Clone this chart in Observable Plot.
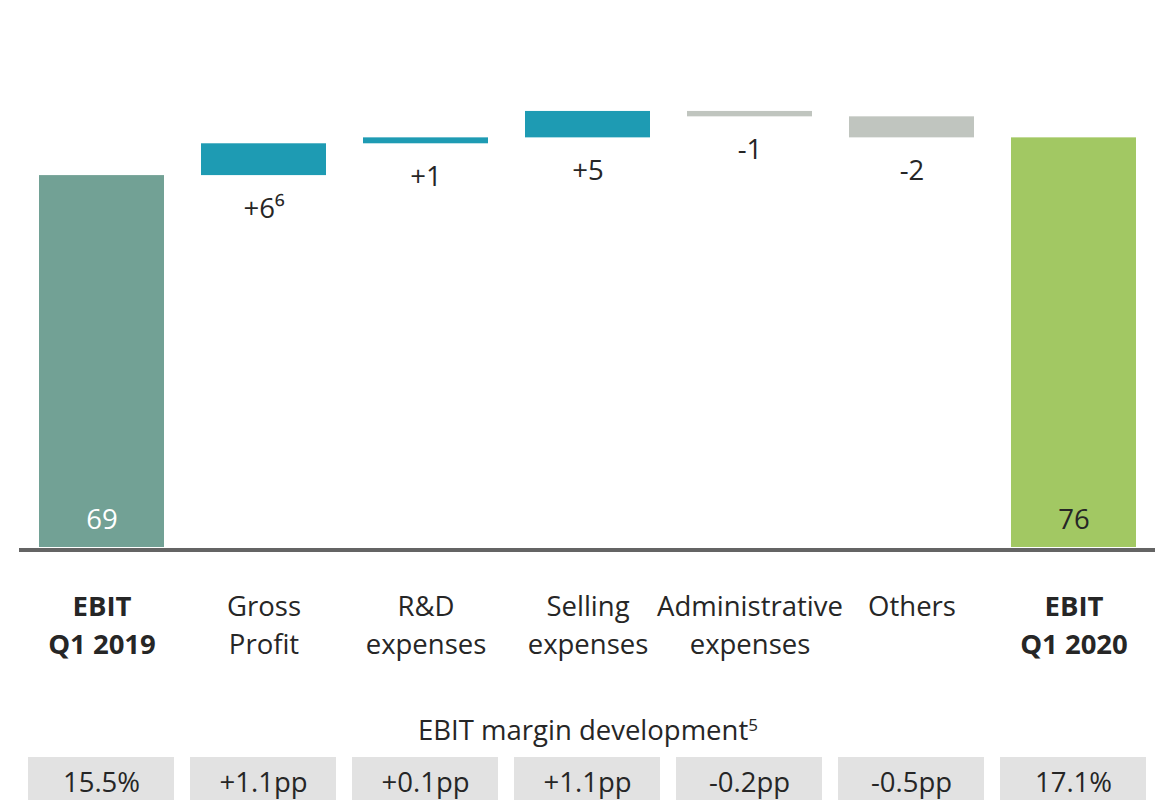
<!DOCTYPE html>
<html>
<head>
<meta charset="utf-8">
<script src="https://cdn.jsdelivr.net/npm/d3@7"></script>
<script src="https://cdn.jsdelivr.net/npm/@observablehq/plot@0.6"></script>
<style>
  html, body { margin: 0; padding: 0; background: #fff; overflow: hidden; }
  #wrap { position: relative; width: 1160px; height: 800px; font-family: "Open Sans", sans-serif; color: #262626; }
  #chart { position: absolute; left: 0; top: 0; }
  #title { position: absolute; left: 8px; width: 1160px; top: 716px; text-align: center; font-size: 27.5px; line-height: 28px; white-space: nowrap; }
  #title sup { font-size: 17px; vertical-align: top; position: relative; top: -5px; }
  #margins { position: absolute; left: 0; top: 757px; }
</style>
</head>
<body>
<div id="wrap">
  <div id="chart"></div>
  <div id="title">EBIT margin development<sup>5</sup></div>
  <div id="margins"></div>
</div>
<script>
// ---- data ----
const categories = ["EBIT\nQ1 2019", "Gross\nProfit", "R&D\nexpenses", "Selling\nexpenses", "Administrative\nexpenses", "Others", "EBIT\nQ1 2020"];
const kinds = ["start", "up", "up", "up", "down", "down", "end"];
const values = [69, 5.9, 1.1, 4.9, -1.0, -3.9, 76];
const valueLabels = ["69", "+6⁶", "+1", "+5", "-1", "-2", "76"];
const marginLabels = ["15.5%", "+1.1pp", "+0.1pp", "+1.1pp", "-0.2pp", "-0.5pp", "17.1%"];

// ---- build waterfall table ----
let run = 0;
const rows = categories.map((cat, i) => {
  const kind = kinds[i];
  let y1, y2;
  if (kind === "start" || kind === "end") { y1 = 0; y2 = values[i]; run = values[i]; }
  else { y1 = run; y2 = run + values[i]; run = y2; }
  return { cat, kind, y1, y2, label: valueLabels[i], margin: marginLabels[i], bold: kind === "start" || kind === "end" };
});

const FONT = "'Open Sans', sans-serif";
const TXT = "#262626";
const FS = 27.5;

const chart = Plot.plot({
  width: 1160,
  height: 705,
  marginTop: 8,
  marginBottom: 158,
  marginLeft: 19,
  marginRight: 5,
  style: { fontFamily: FONT, background: "transparent" },
  x: { domain: categories, paddingInner: 0.23, paddingOuter: 0.115, axis: null },
  y: { domain: [0, 100], axis: null },
  color: { domain: ["start", "up", "down", "end"], range: ["#72A195", "#1E9BB3", "#C0C5BF", "#A2C863"] },
  marks: [
    Plot.barY(rows, { x: "cat", y1: "y1", y2: "y2", fill: "kind" }),
    Plot.ruleY([0], { stroke: "#646464", strokeWidth: 4, dy: 2.5 }),
    // total labels inside bars
    Plot.text(rows.filter(d => d.kind === "start"), { x: "cat", y: 0, text: "label", fill: "white", fontSize: FS, lineAnchor: "middle", dy: -27 }),
    Plot.text(rows.filter(d => d.kind === "end"), { x: "cat", y: 0, text: "label", fill: TXT, fontSize: FS, lineAnchor: "middle", dy: -27 }),
    // delta labels below bars
    Plot.text(rows.filter(d => !d.bold), { x: "cat", y: d => Math.min(d.y1, d.y2), text: "label", fill: TXT, fontSize: FS, lineAnchor: "top", dy: 23 }),
    // category labels
    Plot.text(rows.filter(d => d.bold), { x: "cat", text: "cat", frameAnchor: "bottom", lineAnchor: "top", dy: 41, lineHeight: 1.4, fontSize: FS, fontWeight: "bold", fill: TXT }),
    Plot.text(rows.filter(d => !d.bold), { x: "cat", text: "cat", frameAnchor: "bottom", lineAnchor: "top", dy: 41, lineHeight: 1.4, fontSize: FS, fill: TXT })
  ]
});
document.getElementById("chart").appendChild(chart);

const margins = Plot.plot({
  width: 1160,
  height: 43,
  marginTop: 0,
  marginBottom: 0,
  marginLeft: 19,
  marginRight: 5,
  style: { fontFamily: FONT, background: "transparent" },
  x: { domain: categories, paddingInner: 0.1, paddingOuter: 0.05, axis: null },
  marks: [
    Plot.cell(rows, { x: "cat", fill: "#E2E2E2", inset: 0 }),
    Plot.text(rows, { x: "cat", text: "margin", frameAnchor: "middle", lineAnchor: "middle", dy: 4, fontSize: FS, fill: TXT })
  ]
});
document.getElementById("margins").appendChild(margins);
</script>
</body>
</html>
